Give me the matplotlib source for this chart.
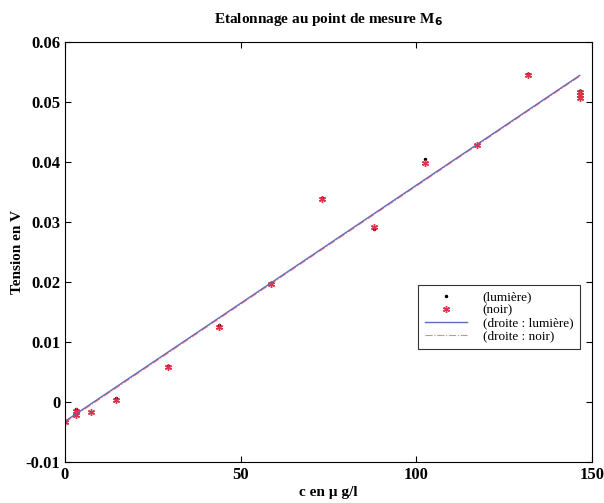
import numpy as np
import matplotlib.pyplot as plt

plt.rcParams['font.family'] = ['Liberation Serif', 'DejaVu Serif']
plt.rcParams['font.weight'] = 'bold'

# Concentrations (µg/l) et tensions mesurées
c = [0, 3, 3, 7.3, 14.6, 29.3, 43.9, 58.6, 73.2, 87.9, 102.5, 117.2, 131.8, 146.5, 146.5, 146.5]
u_lumiere = [-0.0034, -0.0012, -0.0018, -0.0016, 0.0006, 0.0060, 0.0128, 0.0198, 0.0340, 0.0288,
             0.0405, 0.0429, 0.0547, 0.0519, 0.0513, 0.0507]
u_noir = [-0.0034, -0.0015, -0.0021, -0.0016, 0.0004, 0.0058, 0.0125, 0.0196, 0.0339, 0.0291,
          0.0398, 0.0428, 0.0545, 0.0517, 0.0512, 0.0507]

# droites d'étalonnage (moindres carrés)
p_l = np.polyfit(c, u_lumiere, 1)
p_n = np.polyfit(c, u_noir, 1)
xs = np.array([0, 146.5])

fig = plt.figure(figsize=(6.04, 5.03), dpi=100)
ax = fig.add_axes([0.1076, 0.0815, 0.8725, 0.835])

ax.plot(c, u_lumiere, '.', color='black', markersize=3, label='(lumière)')
ax.plot(c, u_noir, linestyle='none', marker=(6, 2, 0), color='#e0304a', markersize=5,
        markeredgewidth=1, label='(noir)')
ax.plot(xs, np.polyval(p_l, xs), '-', color='#5a6fc0', linewidth=1, label='(droite : lumière)')
ax.plot(xs, np.polyval(p_n, xs), '-.', color='#e0304a', linewidth=0.8, alpha=0.6,
        label='(droite : noir)')

ax.set_xlim(0, 150)
ax.set_ylim(-0.01, 0.06)
ax.set_xticks([0, 50, 100, 150])
ax.set_yticks([-0.01, 0, 0.01, 0.02, 0.03, 0.04, 0.05, 0.06])
ax.set_yticklabels(['-0.01', '0', '0.01', '0.02', '0.03', '0.04', '0.05', '0.06'])
ax.tick_params(direction='in', top=True, right=True, labelsize=12, length=4)
for s in ax.spines.values():
    s.set_linewidth(0.8)

ax.set_title('Etalonnage au point de mesure M$_\\mathbf{6}$', fontsize=11, fontweight='bold', pad=14)
ax.set_xlabel('c en µ g/l', fontsize=11, fontweight='bold', labelpad=2)
ax.set_ylabel('Tension en V', fontsize=11, fontweight='bold', labelpad=1)

leg = ax.legend(loc='center right', bbox_to_anchor=(0.977, 0.346), borderaxespad=0,
                frameon=True, fancybox=False, edgecolor='black', handlelength=3.2,
                borderpad=0.5, labelspacing=0.05, handletextpad=1.2,
                prop={'weight': 'normal', 'size': 9.5})
leg.get_frame().set_linewidth(0.8)

fig.savefig('out.png', dpi=100)
